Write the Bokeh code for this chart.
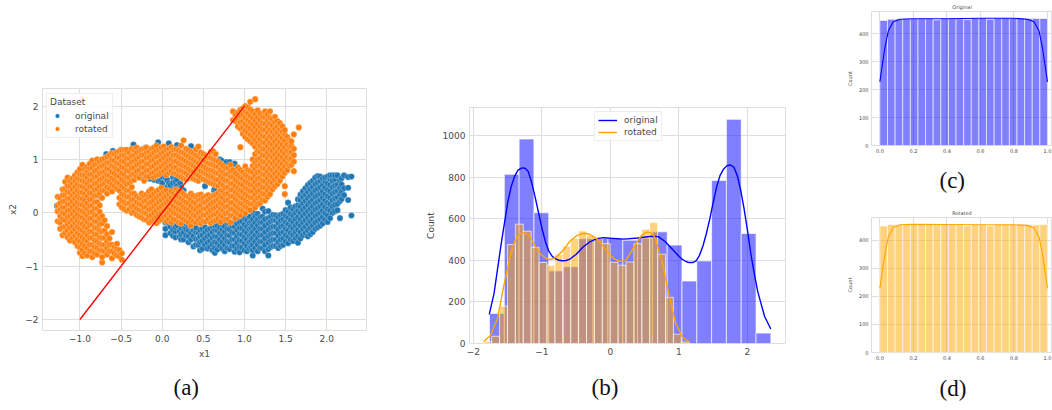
from bokeh.plotting import figure
from bokeh.layouts import row, column
from bokeh.models import Title, Legend, LegendItem, FixedTicker
from bokeh.embed import file_html
from bokeh.resources import INLINE
import numpy as np

# ---------- panel (a): scatter, read column by column ----------
rotated_columns = {
 -1.27: [-0.16,0.03,0.14,0.3],
 -1.24: [-0.3,-0.18,-0.06,0.06,0.18,0.28],
 -1.21: [-0.42,-0.27,-0.12,0.0,0.1,0.21,0.33,0.44],
 -1.18: [-0.38,-0.26,-0.14,-0.02,0.1,0.22,0.33,0.45,0.58],
 -1.15: [-0.46,-0.33,-0.22,-0.08,0.04,0.16,0.27,0.39,0.5,0.66],
 -1.12: [-0.52,-0.4,-0.28,-0.17,-0.06,0.05,0.16,0.27,0.38,0.5,0.6],
 -1.09: [-0.48,-0.36,-0.25,-0.13,-0.02,0.1,0.21,0.33,0.44,0.55,0.64],
 -1.06: [-0.55,-0.43,-0.31,-0.19,-0.08,0.04,0.15,0.27,0.38,0.49,0.6,0.7],
 -1.03: [-0.62,-0.5,-0.38,-0.26,-0.15,-0.03,0.08,0.2,0.31,0.42,0.53,0.64,0.76],
 -1.0: [-0.75,-0.65,-0.54,-0.42,-0.3,-0.19,-0.07,0.05,0.16,0.27,0.38,0.5,0.62,0.73,0.82],
 -0.97: [-0.81,-0.7,-0.58,-0.45,-0.33,-0.21,-0.09,0.03,0.15,0.26,0.38,0.49,0.6,0.71,0.9],
 -0.94: [-0.76,-0.62,-0.5,-0.38,-0.26,-0.13,0.0,0.12,0.23,0.35,0.47,0.58,0.7,0.82],
 -0.91: [-0.8,-0.66,-0.53,-0.41,-0.29,-0.17,-0.05,0.07,0.18,0.31,0.43,0.55,0.66,0.78,0.86],
 -0.88: [-0.72,-0.6,-0.47,-0.35,-0.23,-0.11,0.01,0.13,0.25,0.37,0.49,0.6,0.72,0.84,0.92],
 -0.85: [-0.83,-0.72,-0.6,-0.47,-0.35,-0.22,-0.1,0.02,0.14,0.26,0.37,0.49,0.61,0.72,0.84,0.98],
 -0.82: [-0.76,-0.64,-0.52,-0.4,-0.28,-0.16,-0.04,0.08,0.2,0.32,0.43,0.55,0.67,0.78,0.9],
 -0.79: [-0.78,-0.66,-0.54,-0.41,-0.29,-0.17,-0.05,0.08,0.2,0.33,0.45,0.56,0.68,0.8,0.92,1.0],
 -0.76: [-0.7,-0.58,-0.46,-0.33,-0.22,-0.1,0.02,0.14,0.37,0.5,0.62,0.74,0.86,0.96],
 -0.73: [-0.93,-0.83,-0.71,-0.6,-0.47,-0.35,-0.2,-0.06,0.28,0.42,0.53,0.64,0.76,0.88,1.0],
 -0.7: [-0.72,-0.6,-0.47,-0.33,-0.14,0.42,0.55,0.67,0.78,0.9,1.02],
 -0.67: [-0.78,-0.66,-0.54,-0.4,-0.25,0.36,0.48,0.6,0.71,0.83,0.94,1.05],
 -0.64: [-0.72,-0.6,-0.48,0.45,0.58,0.7,0.82,0.94,1.08],
 -0.61: [-0.85,-0.72,-0.6,-0.36,0.4,0.53,0.65,0.76,0.88,0.99,1.12],
 -0.58: [-0.76,-0.64,0.5,0.62,0.74,0.86,0.98,1.1],
 -0.55: [-0.8,-0.68,-0.58,0.45,0.57,0.7,0.82,0.93,1.05,1.14],
 -0.52: [-0.82,-0.7,0.16,0.28,0.42,0.55,0.68,0.8,0.92,1.03,1.15],
 -0.49: [-0.88,-0.76,0.1,0.23,0.35,0.5,0.62,0.74,0.86,0.97,1.09,1.18],
 -0.46: [0.07,0.2,0.33,0.46,0.58,0.72,0.84,0.96,1.08,1.18],
 -0.43: [0.04,0.17,0.3,0.42,0.54,0.66,0.79,0.9,1.02,1.13,1.18],
 -0.4: [0.06,0.18,0.3,0.42,0.56,0.66,0.78,0.9,1.02,1.13],
 -0.37: [0.0,0.12,0.24,0.36,0.48,0.6,0.72,0.84,0.95,1.07,1.2],
 -0.34: [0.02,0.14,0.26,0.36,0.62,0.73,0.85,0.97,1.08,1.18],
 -0.31: [-0.04,0.08,0.2,0.31,0.68,0.78,0.9,1.01,1.13,1.22],
 -0.28: [-0.07,0.05,0.17,0.28,0.66,0.8,0.92,1.04,1.16],
 -0.25: [-0.09,0.03,0.15,0.27,0.36,0.73,0.85,0.96,1.08,1.19],
 -0.22: [-0.12,0.0,0.1,0.22,0.32,0.6,0.74,0.85,0.97,1.09,1.2],
 -0.19: [-0.13,-0.01,0.11,0.23,0.34,0.68,0.79,0.91,1.03,1.14,1.22],
 -0.16: [-0.18,-0.06,0.06,0.18,0.3,0.4,0.68,0.8,0.92,1.04,1.15],
 -0.13: [-0.15,-0.04,0.08,0.2,0.32,0.44,0.74,0.86,0.98,1.09,1.2],
 -0.1: [-0.12,0.0,0.12,0.24,0.36,0.66,0.76,0.88,1.0,1.12,1.22],
 -0.07: [-0.19,-0.08,0.04,0.16,0.28,0.4,0.7,0.81,0.93,1.05,1.16,1.26],
 -0.04: [-0.15,-0.03,0.09,0.21,0.32,0.43,0.72,0.83,0.95,1.07,1.18],
 -0.01: [-0.12,0.0,0.12,0.24,0.35,0.47,0.76,0.87,0.99,1.11,1.22],
 0.02: [-0.08,0.04,0.16,0.28,0.4,0.78,0.91,1.03,1.14,1.24],
 0.05: [-0.16,-0.05,0.07,0.19,0.31,0.42,0.71,0.83,0.95,1.07,1.18],
 0.08: [-0.12,0.0,0.11,0.23,0.35,0.75,0.87,0.99,1.1,1.2],
 0.11: [-0.18,-0.07,0.05,0.16,0.28,0.4,0.78,0.89,1.01,1.13,1.23],
 0.14: [-0.12,0.0,0.12,0.24,0.36,0.74,0.85,0.96,1.08,1.18],
 0.17: [-0.14,-0.02,0.09,0.21,0.33,0.44,0.73,0.85,0.97,1.08,1.19],
 0.2: [-0.18,-0.06,0.06,0.18,0.3,0.41,0.7,0.8,0.93,1.05,1.17],
 0.23: [-0.2,-0.08,0.04,0.16,0.27,0.39,0.67,0.79,0.9,1.02,1.14,1.26],
 0.26: [-0.12,-0.01,0.11,0.23,0.35,0.64,0.76,0.88,1.0,1.12,1.36],
 0.29: [-0.15,-0.03,0.08,0.2,0.32,0.63,0.74,0.86,0.97,1.09,1.2],
 0.32: [-0.18,-0.06,0.06,0.18,0.3,0.65,0.7,0.82,0.94,1.06,1.17],
 0.35: [-0.24,-0.1,0.02,0.13,0.25,0.36,0.67,0.79,0.91,1.02,1.14],
 0.38: [-0.16,-0.04,0.08,0.2,0.32,0.64,0.76,0.88,1.0,1.11],
 0.41: [-0.18,-0.06,0.06,0.18,0.3,0.62,0.73,0.85,0.96,1.08,1.19],
 0.44: [-0.13,0.0,0.12,0.24,0.33,0.6,0.7,0.82,0.93,1.05,1.24],
 0.47: [-0.2,-0.09,0.03,0.14,0.26,0.34,0.66,0.78,0.89,1.01,1.13],
 0.5: [-0.16,-0.04,0.08,0.2,0.29,0.63,0.76,0.87,0.99,1.1],
 0.53: [-0.16,-0.04,0.08,0.2,0.31,0.61,0.73,0.84,0.96,1.07],
 0.56: [-0.12,0.0,0.12,0.24,0.33,0.58,0.7,0.81,0.93,1.04],
 0.59: [-0.19,-0.07,0.05,0.16,0.28,0.56,0.68,0.8,0.91,1.03,1.14],
 0.62: [-0.16,-0.04,0.08,0.2,0.32,0.54,0.66,0.78,0.9,1.0,1.15],
 0.65: [-0.14,-0.02,0.1,0.22,0.34,0.52,0.63,0.75,0.87,0.98,1.1],
 0.68: [-0.11,0.01,0.13,0.25,0.37,0.5,0.62,0.74,0.86,0.96],
 0.71: [-0.17,-0.05,0.07,0.19,0.3,0.42,0.56,0.69,0.8,0.92],
 0.74: [-0.08,0.04,0.16,0.28,0.4,0.52,0.64,0.76,0.88],
 0.77: [-0.13,-0.01,0.11,0.23,0.35,0.47,0.6,0.72,0.84],
 0.8: [-0.12,0.0,0.12,0.24,0.36,0.48,0.6,0.72,0.84],
 0.83: [-0.18,-0.05,0.07,0.19,0.31,0.43,0.55,0.67,0.78,0.9],
 0.86: [-0.05,0.07,0.19,0.31,0.43,0.55,0.67,0.8,1.74,1.9],
 0.89: [-0.1,0.02,0.14,0.26,0.38,0.5,0.62,0.74,1.72,1.84],
 0.92: [-0.02,0.1,0.22,0.34,0.46,0.58,0.7,0.85,1.62,1.76,1.88],
 0.95: [-0.05,0.06,0.18,0.3,0.42,0.54,0.66,0.8,1.23,1.58,1.7,1.82,1.93],
 0.98: [0.04,0.16,0.28,0.4,0.52,0.64,0.76,1.48,1.6,1.72,1.84,1.96],
 1.01: [-0.01,0.11,0.23,0.35,0.47,0.59,0.71,0.87,1.42,1.54,1.66,1.78,1.9,2.0],
 1.04: [0.08,0.2,0.32,0.44,0.56,0.68,0.8,1.38,1.5,1.62,1.74,1.86,1.98],
 1.07: [0.05,0.17,0.29,0.41,0.53,0.65,0.78,1.34,1.46,1.58,1.7,1.82,1.94,2.08],
 1.1: [0.16,0.28,0.4,0.52,0.64,0.76,0.88,1.0,1.3,1.42,1.54,1.66,1.78,1.9],
 1.13: [0.1,0.22,0.34,0.46,0.58,0.7,0.82,0.94,1.1,1.24,1.37,1.49,1.61,1.73,1.85,2.13],
 1.16: [0.16,0.28,0.4,0.52,0.64,0.76,0.88,1.0,1.16,1.3,1.43,1.55,1.67,1.79,1.92],
 1.19: [0.18,0.3,0.42,0.54,0.66,0.78,0.9,1.02,1.14,1.26,1.38,1.5,1.62,1.74,1.86],
 1.22: [0.24,0.36,0.48,0.6,0.72,0.84,0.96,1.08,1.2,1.32,1.44,1.56,1.68,1.8],
 1.25: [0.23,0.35,0.47,0.59,0.71,0.83,0.95,1.07,1.19,1.31,1.43,1.55,1.67,1.79,1.9],
 1.28: [0.3,0.42,0.54,0.66,0.78,0.9,1.02,1.14,1.26,1.38,1.5,1.62,1.74,1.85],
 1.31: [0.35,0.47,0.59,0.71,0.83,0.95,1.07,1.19,1.31,1.43,1.55,1.67,1.78,1.9],
 1.34: [0.44,0.56,0.68,0.8,0.92,1.04,1.16,1.28,1.4,1.52,1.64,1.76],
 1.37: [0.5,0.62,0.74,0.86,0.98,1.1,1.22,1.34,1.46,1.58,1.7,1.8],
 1.4: [0.54,0.66,0.78,0.9,1.02,1.14,1.26,1.38,1.5,1.62,1.72],
 1.43: [0.6,0.72,0.84,0.96,1.08,1.2,1.32,1.44,1.56,1.68],
 1.46: [0.68,0.8,0.92,1.04,1.16,1.28,1.4,1.52,1.62],
 1.49: [0.35,0.5,0.75,0.87,0.99,1.11,1.23,1.35,1.47,1.55],
 1.52: [0.8,0.92,1.04,1.16,1.28,1.42],
 1.55: [0.88,1.0,1.12,1.24,1.36],
 1.57: [0.9,1.02,1.14,1.26,1.34],
 1.6: [0.78,0.96,1.08,1.2,1.47],
 1.66: [1.6],
}
original_columns = {
 -1.28: [0.13],
 -1.15: [0.58],
 -1.0: [0.78],
 -0.75: [0.3],
 -0.68: [0.48,1.1],
 -0.6: [1.16],
 -0.5: [1.18],
 -0.35: [1.28],
 -0.25: [0.66],
 -0.2: [0.66,1.22],
 -0.15: [0.64],
 -0.1: [0.62],
 -0.05: [1.32,0.6],
 -0.02: [0.6],
 0.0: [0.45,0.55,0.68],
 0.04: [-0.42,-0.3,-0.18,0.66],
 0.06: [0.48,0.62],
 0.08: [-0.2,0.55,1.3],
 0.1: [-0.38,-0.26,0.42,0.52],
 0.13: [-0.43,-0.32,-0.2,0.44,0.56,0.67],
 0.16: [-0.46,-0.35,-0.27,0.45,0.58,0.68],
 0.18: [-0.24,0.38,0.5,0.62,1.27],
 0.21: [-0.45,-0.34],
 0.22: [0.4,0.55],
 0.23: [-0.5,-0.4,-0.28,0.35,0.47],
 0.26: [-0.5,-0.37,-0.25,0.42],
 0.29: [-0.43,-0.31,-0.2],
 0.32: [-0.55,-0.44,-0.33,-0.24],
 0.35: [-0.5,-0.38,-0.27,1.25],
 0.38: [-0.63,-0.44,-0.33],
 0.41: [-0.6,-0.49,-0.36,-0.28],
 0.44: [-0.6,-0.49,-0.38],
 0.46: [-0.7,-0.55,-0.44,-0.32],
 0.49: [-0.67,-0.53,-0.42,-0.3],
 0.52: [-0.6,-0.48,-0.36,-0.27,0.5],
 0.55: [-0.67,-0.56,-0.44,-0.32],
 0.58: [-0.64,-0.53,-0.41,-0.3,1.05],
 0.61: [-0.7,-0.59,-0.47,-0.36,-0.26],
 0.63: [0.42],
 0.64: [-0.75,-0.66,-0.55,-0.44,-0.32,-0.24,0.46],
 0.67: [-0.69,-0.57,-0.45,-0.33,-0.24],
 0.7: [-0.62,-0.5,-0.38,-0.28,1.0],
 0.72: [0.98],
 0.73: [-0.67,-0.55,-0.43,-0.31,-0.22],
 0.75: [0.48],
 0.76: [-0.72,-0.6,-0.48,-0.36,-0.25,0.42],
 0.78: [0.95],
 0.79: [-0.66,-0.54,-0.42,-0.3,-0.19],
 0.82: [-0.68,-0.55,-0.43,-0.31,-0.2,0.95],
 0.85: [-0.62,-0.5,-0.37,-0.25,0.48],
 0.86: [0.9],
 0.88: [-0.73,-0.62,-0.5,-0.38,-0.26,-0.16,0.65,0.92],
 0.9: [0.7],
 0.91: [-0.68,-0.56,-0.44,-0.32,-0.2,-0.12],
 0.92: [0.82],
 0.94: [-0.74,-0.64,-0.52,-0.4,-0.28,-0.17,0.72],
 0.97: [-0.65,-0.53,-0.41,-0.29,-0.16],
 1.0: [-0.7,-0.58,-0.46,-0.34,-0.22,-0.1],
 1.03: [-0.72,-0.62,-0.5,-0.38,-0.26,-0.14],
 1.06: [-0.67,-0.55,-0.43,-0.31,-0.19,-0.07],
 1.08: [-0.64,-0.52,-0.4,-0.28,-0.16],
 1.1: [-0.8,-0.7,-0.6,-0.48,-0.36,-0.24,-0.12,0.02],
 1.13: [-0.66,-0.54,-0.42,-0.3,-0.18,-0.06],
 1.16: [-0.72,-0.6,-0.48,-0.36,-0.24,-0.12,-0.02],
 1.19: [-0.66,-0.54,-0.42,-0.3,-0.18,-0.08],
 1.22: [-0.66,-0.54,-0.42,-0.3,-0.18,-0.07,0.08],
 1.25: [-0.72,-0.6,-0.48,-0.36,-0.24,-0.12,0.02],
 1.29: [-0.8,-0.68,-0.56,-0.44,-0.32,-0.2,-0.1,0.03],
 1.32: [-0.64,-0.52,-0.4,-0.28,-0.16,-0.07],
 1.35: [-0.62,-0.5,-0.38,-0.26,-0.14,-0.04],
 1.38: [-0.62,-0.5,-0.38,-0.26,-0.14,-0.05],
 1.41: [-0.66,-0.55,-0.43,-0.31,-0.19,-0.08],
 1.44: [-0.62,-0.5,-0.38,-0.26,-0.14,-0.04],
 1.47: [-0.6,-0.48,-0.36,-0.24,-0.12,-0.02],
 1.5: [-0.54,-0.42,-0.3,-0.18,-0.06,0.05],
 1.53: [-0.57,-0.45,-0.33,-0.21,-0.09,0.02,0.19],
 1.56: [-0.5,-0.38,-0.26,-0.14,-0.02,0.1],
 1.59: [-0.53,-0.41,-0.29,-0.17,-0.05,0.07],
 1.62: [-0.48,-0.36,-0.24,-0.12,0.0,0.12],
 1.65: [-0.56,-0.44,-0.32,-0.2,-0.08,0.04,0.14,0.25],
 1.68: [-0.48,-0.36,-0.24,-0.12,0.0,0.12,0.24,0.34],
 1.71: [-0.42,-0.3,-0.18,-0.06,0.06,0.18,0.3,0.4],
 1.74: [-0.38,-0.26,-0.14,-0.02,0.1,0.22,0.34,0.46],
 1.77: [-0.44,-0.33,-0.21,-0.09,0.03,0.15,0.27,0.39,0.52],
 1.8: [-0.4,-0.28,-0.16,-0.04,0.08,0.2,0.32,0.44,0.56],
 1.83: [-0.36,-0.24,-0.12,0.0,0.12,0.24,0.36,0.48,0.6],
 1.86: [-0.3,-0.18,-0.06,0.06,0.18,0.3,0.42,0.54,0.66],
 1.89: [-0.27,-0.15,-0.03,0.09,0.21,0.33,0.45,0.57,0.69],
 1.92: [-0.24,-0.12,0.0,0.12,0.24,0.36,0.48,0.6,0.68],
 1.95: [-0.2,-0.08,0.04,0.16,0.28,0.4,0.52,0.64],
 1.98: [-0.13,-0.01,0.11,0.23,0.35,0.47,0.59,0.66],
 2.01: [-0.17,-0.05,0.07,0.19,0.31,0.43,0.55,0.68],
 2.04: [-0.1,0.04,0.16,0.28,0.4,0.52,0.64,0.7],
 2.07: [0.0,0.12,0.24,0.36,0.48,0.6,0.7],
 2.1: [0.03,0.15,0.27,0.39,0.51,0.63,0.7],
 2.13: [0.05,0.17,0.29,0.41,0.53,0.7],
 2.16: [-0.1,0.22,0.35,0.47,0.6],
 2.18: [0.26,0.4,0.53,0.65],
 2.21: [0.33,0.46,0.7],
 2.26: [0.24,0.47,0.67],
 2.3: [-0.05,0.68],
}
line_x1 = [-1.0, 1.0]
line_x2 = [-2.0, 2.0]

# ---------- panel (b): histograms and density curves ----------
b_orig_edges = (-1.766, 2.341)
b_orig_counts = [145,815,985,630,350,370,505,507,505,498,507,538,474,301,398,785,1080,530,50]
b_rot_edges = (-1.85, 1.15)
b_rot_counts = [10,35,180,477,575,541,463,391,377,429,469,507,542,522,510,481,391,377,393,481,550,583,430,222,45,7]
kde_orig_x = [-1.77,-1.7,-1.6,-1.5,-1.45,-1.4,-1.35,-1.3,-1.27,-1.24,-1.2,-1.15,-1.1,-1.05,-1.0,-0.95,-0.9,-0.85,-0.8,-0.75,-0.7,-0.65,-0.6,-0.5,-0.4,-0.3,-0.2,-0.1,0.0,0.2,0.4,0.6,0.7,0.8,0.9,1.0,1.05,1.1,1.15,1.2,1.25,1.3,1.35,1.4,1.45,1.5,1.55,1.6,1.65,1.7,1.75,1.8,1.85,1.9,1.95,2.0,2.05,2.1,2.15,2.25,2.34]
kde_orig_y = [140,240,470,680,755,805,835,845,846,843,828,775,705,630,555,490,445,420,408,401,399,400,405,430,465,490,505,510,507,503,508,517,515,490,455,420,405,395,390,390,398,425,470,530,600,680,755,810,840,857,860,850,810,740,650,545,430,335,250,130,70]
kde_rot_x = [-1.85,-1.75,-1.65,-1.55,-1.45,-1.4,-1.35,-1.3,-1.27,-1.23,-1.18,-1.1,-1.05,-1.0,-0.95,-0.9,-0.85,-0.8,-0.7,-0.6,-0.5,-0.45,-0.4,-0.35,-0.3,-0.2,-0.1,0.0,0.05,0.1,0.17,0.22,0.3,0.35,0.45,0.5,0.55,0.6,0.65,0.75,0.85,0.95,1.05,1.15]
kde_rot_y = [10,40,120,290,440,490,520,531,533,530,518,470,445,425,412,405,407,415,445,490,518,526,530,530,525,505,465,425,410,400,395,399,440,470,520,532,537,530,510,400,240,100,30,8]

# ---------- panels (c), (d) ----------
c_counts = [448,452,453,454,454,454,454,450,454,454,453,451,455,456,452,456,456,456,456,455,455,455]
d_counts = [450,455,454,456,456,456,456,454,456,454,453,451,454,454,450,455,455,455,455,454,454,455]
kde_u_x = [0.0,0.01,0.03,0.05,0.08,0.12,0.2,0.4,0.6,0.8,0.88,0.92,0.95,0.97,0.99,1.0]
kde_c_y = [228,270,350,410,443,452,454,454,456,456,452,443,410,350,270,228]
kde_d_y = [228,270,350,410,445,454,456,455,454,454,452,443,410,350,270,228]

GREY = "#4a4a4a"
GRID = "#dedede"

def style(p, tick_px, label_px, tick_off, lab_off):
    p.background_fill_color = "white"
    p.outline_line_color = GRID
    p.outline_line_width = 1
    for ax in (p.xaxis[0], p.yaxis[0]):
        ax.axis_line_color = None
        ax.major_tick_line_color = None
        ax.minor_tick_line_color = None
        ax.major_tick_out = 0
        ax.major_tick_in = 0
        ax.minor_tick_out = 0
        ax.minor_tick_in = 0
        ax.major_label_standoff = tick_off
        ax.axis_label_standoff = lab_off
        ax.major_label_text_color = GREY
        ax.major_label_text_font = "DejaVu Sans"
        ax.major_label_text_font_size = tick_px
        ax.axis_label_text_color = GREY
        ax.axis_label_text_font = "DejaVu Sans"
        ax.axis_label_text_font_size = label_px
        ax.axis_label_text_font_style = "normal"
    for g in (p.xgrid[0], p.ygrid[0]):
        g.grid_line_color = GRID
        g.grid_line_width = 1.1

def caption(p, text, offset, standoff):
    p.add_layout(Title(text=text, align="left", vertical_align="top", offset=offset, standoff=standoff,
                       text_font="Liberation Serif", text_font_size="23px", text_font_style="normal",
                       text_color="#111111"), "below")

def make(w, h, xr, yr, left, right, top, bottom):
    return figure(width=w, height=h, x_range=xr, y_range=yr, min_border_left=left, min_border_right=right,
                  min_border_top=top, min_border_bottom=bottom, toolbar_location=None, output_backend="svg")

def flatten(cols):
    xs, ys = [], []
    for x, vals in cols.items():
        for y in vals:
            xs.append(x)
            ys.append(y)
    return xs, ys

def ticks(axis, vals, labels):
    axis.ticker = FixedTicker(ticks=vals)
    axis.major_label_overrides = dict(zip(vals, labels))

# panel a
pa = make(420, 425, (-1.455, 2.483), (-2.206, 2.33), 42, 54, 88, 95)
style(pa, "9px", "9px", 4, 4)
ticks(pa.xaxis[0], [-1,-0.5,0,0.5,1,1.5,2], ["−1.0","−0.5","0.0","0.5","1.0","1.5","2.0"])
ticks(pa.yaxis[0], [-2,-1,0,1,2], ["−2","−1","0","1","2"])
pa.xaxis[0].axis_label = "x1"
pa.yaxis[0].axis_label = "x2"
ox, oy = flatten(original_columns)
rx, ry = flatten(rotated_columns)
ra = pa.scatter(ox, oy, size=6.2, fill_color="#1f77b4", line_color="white", line_alpha=0.55, line_width=0.5)
rb = pa.scatter(rx, ry, size=6.2, fill_color="#ff7f0e", line_color="white", line_alpha=0.55, line_width=0.5)
pa.line(line_x1, line_x2, line_color="red", line_width=1.4)
lega = Legend(items=[LegendItem(label="original", renderers=[ra]), LegendItem(label="rotated", renderers=[rb])],
              title="Dataset", location=(4, 192), label_text_font_size="9px", label_text_color=GREY,
              title_text_font_size="9px", title_text_font_style="normal", title_text_color=GREY,
              label_text_font="DejaVu Sans", title_text_font="DejaVu Sans",
              border_line_color=GRID, glyph_width=14, glyph_height=11, spacing=2, padding=3, margin=0,
              label_standoff=11, title_standoff=3, background_fill_alpha=0.85)
pa.add_layout(lega)
caption(pa, "(a)", 131, 27)

# panel b
pb = make(390, 425, (-2.058, 2.555), (0, 1137), 49, 25, 107, 82)
style(pb, "9px", "9px", 4, 4)
ticks(pb.xaxis[0], [-2,-1,0,1,2], ["−2","−1","0","1","2"])
pb.yaxis[0].ticker = FixedTicker(ticks=[0,200,400,600,800,1000])
pb.yaxis[0].axis_label = "Count"
e1 = np.linspace(b_orig_edges[0], b_orig_edges[1], len(b_orig_counts) + 1)
e2 = np.linspace(b_rot_edges[0], b_rot_edges[1], len(b_rot_counts) + 1)
pb.quad(left=e1[:-1], right=e1[1:], top=b_orig_counts, bottom=0, fill_color="blue", fill_alpha=0.5,
        line_color="white", line_alpha=0.75, line_width=0.9)
pb.quad(left=e2[:-1], right=e2[1:], top=b_rot_counts, bottom=0, fill_color="orange", fill_alpha=0.5,
        line_color="white", line_alpha=0.75, line_width=0.9)
lb1 = pb.line(kde_orig_x, kde_orig_y, line_color="blue", line_width=1.4)
lb2 = pb.line(kde_rot_x, kde_rot_y, line_color="orange", line_width=1.4)
legb = Legend(items=[LegendItem(label="original", renderers=[lb1]), LegendItem(label="rotated", renderers=[lb2])],
              location=(125, 202), label_text_font_size="9px", label_text_color=GREY, label_text_font="DejaVu Sans",
              border_line_color=GRID, glyph_width=19, glyph_height=10, spacing=2, padding=3, margin=0,
              label_standoff=7, background_fill_alpha=0.85)
pb.add_layout(legb)
caption(pb, "(b)", 122, 34)

# panels c, d
def small(counts, kde_y, color, title, cap, standoff, h, top, bottom):
    p = make(242, h, (-0.05, 1.03), (0, 480), 61, 0, top, bottom)
    style(p, "5px", "5px", 3, 3)
    ticks(p.xaxis[0], [0,0.2,0.4,0.6,0.8,1.0], ["0.0","0.2","0.4","0.6","0.8","1.0"])
    p.yaxis[0].ticker = FixedTicker(ticks=[0,100,200,300,400])
    p.yaxis[0].axis_label = "Count"
    e = np.linspace(0, 1, len(counts) + 1)
    p.quad(left=e[:-1], right=e[1:], top=counts, bottom=0, fill_color=color, fill_alpha=0.5,
           line_color="white", line_alpha=0.75, line_width=0.8)
    p.line(kde_u_x, kde_y, line_color=color, line_width=1.1)
    p.title.text = title
    p.title.align = "center"
    p.title.standoff = 3
    p.title.text_font = "DejaVu Sans"
    p.title.text_font_size = "5px"
    p.title.text_font_style = "normal"
    p.title.text_color = GREY
    caption(p, cap, 68, standoff)
    return p

pc = small(c_counts, kde_c_y, "blue", "Original", "(c)", 24, 206, 10, 59)
pd_ = small(d_counts, kde_d_y, "orange", "Rotated", "(d)", 27, 213, 9, 67)

layout = row(column(pa), column(pb), column(pc, pd_, spacing=0), spacing=0, margin=(0, 0, 0, 0),
             width=1052, height=410, styles={"overflow": "hidden"})
open("out.html", "w").write(file_html(layout, INLINE))
